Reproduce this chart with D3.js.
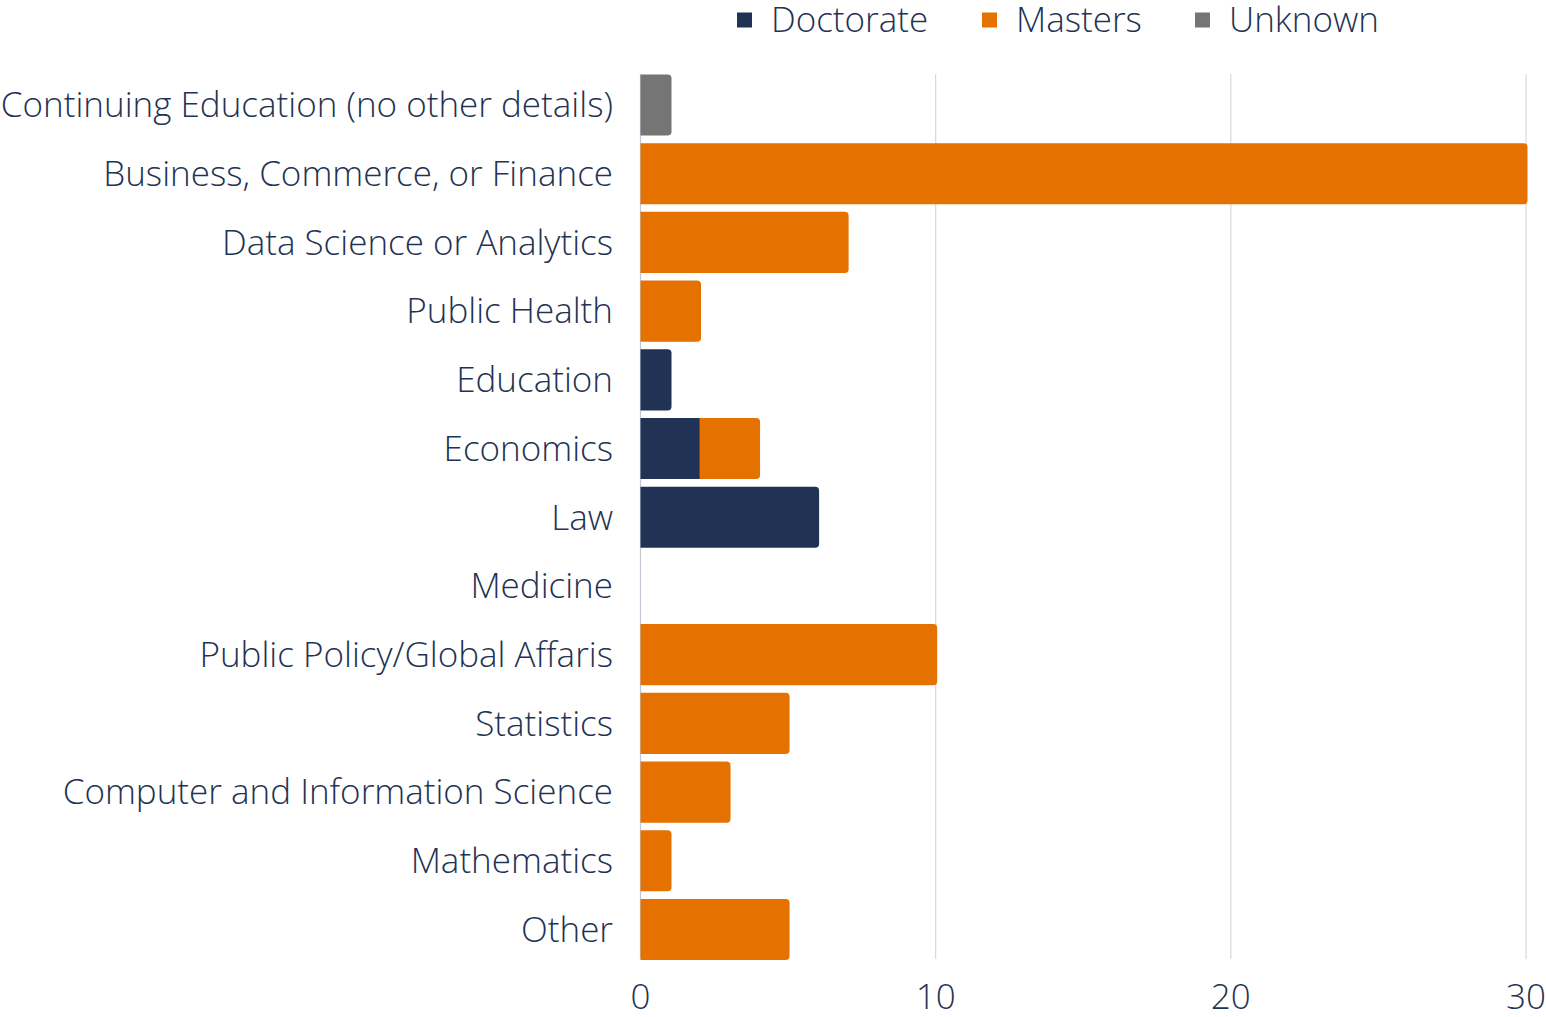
<!DOCTYPE html>
<html lang="en">
<head>
    <meta charset="UTF-8">
    <title>Degrees by field</title>
    <script src="https://d3js.org/d3.v7.min.js"></script>
    <style>
        body { margin: 0; background: #fff; }
        text { font-family: "Open Sans", sans-serif; fill: #1f3354; }
    </style>
</head>
<body>
    <svg id="chart" width="1546" height="1017"></svg>

    <script>
        var categories = ["Continuing Education (no other details)", "Business, Commerce, or Finance",
            "Data Science or Analytics", "Public Health", "Education", "Economics", "Law", "Medicine",
            "Public Policy/Global Affaris", "Statistics", "Computer and Information Science",
            "Mathematics", "Other"]
        var doctorate = [0, 0, 0, 0, 1, 2, 6, 0, 0, 0, 0, 0, 0]
        var masters   = [0, 30, 7, 2, 0, 2, 0, 0, 10, 5, 3, 1, 5]
        var unknown   = [1, 0, 0, 0, 0, 0, 0, 0, 0, 0, 0, 0, 0]
        var seriesNames = ["Doctorate", "Masters", "Unknown"]
        var colors = ["#203354", "#e57200", "#757575"]
        var xTicks = [0, 10, 20, 30]

        var svg = d3.select("#chart")
        var x = d3.scaleLinear().domain([0, 30]).range([640.5, 1526])
        var y = d3.scaleBand().domain(categories).range([66.9, 967.6]).padding(0.11)

        var rows = categories.map(function(c, i) {
            return {cat: c, Doctorate: doctorate[i], Masters: masters[i], Unknown: unknown[i]}
        })
        var stacked = d3.stack().keys(seriesNames)(rows)

        // grid
        svg.append("g").selectAll("line").data(xTicks).join("line")
            .attr("x1", d => x(d)).attr("x2", d => x(d))
            .attr("y1", 74).attr("y2", 959)
            .attr("stroke", d => d == 0 ? "#c3c8d6" : "#d5d8e0")
            .attr("stroke-width", 1.2)

        // bars, only the last segment of a row gets rounded right corners
        var r = 4
        function lastKey(i) {
            var k = null
            seriesNames.forEach(function(s) { if (rows[i][s] > 0) k = s })
            return k
        }
        stacked.forEach(function(layer, si) {
            svg.append("g").selectAll("path").data(layer.map((d, i) => ({d: d, i: i})).filter(o => o.d[1] > o.d[0]))
                .join("path")
                .attr("fill", colors[si])
                .attr("d", function(o) {
                    var x0 = x(o.d[0]), x1 = x(o.d[1]) + 1.5, y0 = y(categories[o.i]), h = y.bandwidth()
                    if (lastKey(o.i) != layer.key) {
                        return "M" + x0 + "," + y0 + "H" + x1 + "V" + (y0 + h) + "H" + x0 + "Z"
                    }
                    return "M" + x0 + "," + y0 + "H" + (x1 - r) + "Q" + x1 + "," + y0 + " " + x1 + "," + (y0 + r)
                        + "V" + (y0 + h - r) + "Q" + x1 + "," + (y0 + h) + " " + (x1 - r) + "," + (y0 + h)
                        + "H" + x0 + "Z"
                })
        })

        // category labels
        svg.append("g").selectAll("text").data(categories).join("text")
            .attr("x", 613).attr("y", d => y(d) + y.bandwidth() / 2)
            .attr("dy", "0.35em").attr("text-anchor", "end")
            .style("font-size", "35px").style("font-weight", 300)
            .text(d => d)

        // x axis labels
        svg.append("g").selectAll("text").data(xTicks).join("text")
            .attr("x", d => x(d)).attr("y", 997).attr("dy", "0.35em")
            .attr("text-anchor", "middle")
            .style("font-size", "35px").style("font-weight", 300)
            .text(d => d)

        // legend
        var legendX = [737, 982, 1195]
        var lg = svg.append("g").selectAll("g").data(seriesNames).join("g")
            .attr("transform", (d, i) => "translate(" + legendX[i] + ",20)")
        lg.append("rect").attr("x", 0).attr("y", -7.5).attr("width", 15).attr("height", 15)
            .attr("fill", (d, i) => colors[i])
        lg.append("text").attr("x", 34).attr("dy", "0.35em")
            .style("font-size", "35px").style("font-weight", 300)
            .text(d => d)
    </script>
</body>
</html>
